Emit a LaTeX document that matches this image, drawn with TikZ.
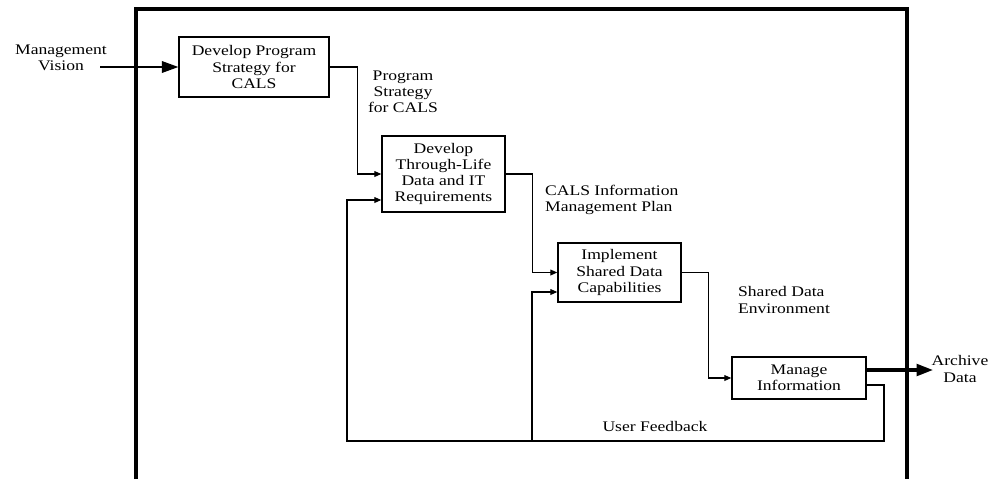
\documentclass[tikz,border=0pt]{standalone}
\usepackage{fontspec}
\setmainfont[FakeStretch=1.2]{Liberation Serif}
\usetikzlibrary{calc}
\usetikzlibrary{arrows.meta}
\begin{document}
\begin{tikzpicture}[x=0.3mm,y=-0.3mm,font=\fontsize{12.5}{13.8}\selectfont]
\tikzstyle{process}=[draw,line width=1.2pt,align=center,inner sep=0pt]
\tikzstyle{flow}=[line width=1pt,-{Triangle[length=6pt,width=5pt]}]
\tikzstyle{bigflow}=[-{Triangle[length=14pt,width=10pt]}]
\useasboundingbox (0,0) rectangle (999,479);
\draw[line width=3.4pt] (136,479) -- (136,9) -- (907,9) -- (907,479);
\node[process,minimum width=45mm,minimum height=18mm] (A) at (254,67) {Develop Program\\Strategy for\\CALS};
\node[process,minimum width=36.9mm,minimum height=22.8mm] (B) at (443.5,174) {Develop\\Through-Life\\Data and IT\\Requirements};
\node[process,minimum width=36.9mm,minimum height=17.7mm] (C) at (619.5,272.5) {Implement\\Shared Data\\Capabilities};
\node[process,minimum width=40.2mm,minimum height=12.6mm] (D) at (799,378) {Manage\\Information};
\node[align=center] (vision) at (61,58) {Management\\Vision};
\node[align=center] (archive) at (960,369) {Archive\\Data};
\coordinate (vin) at (100,67);
\coordinate (aout) at (933,370);
\coordinate (fbR) at (884,441);
\coordinate (fbM) at (532,441);
\coordinate (fbL) at (347,441);
\draw[bigflow,line width=1pt] (vin) -- (A.west);
\draw[bigflow,line width=2.6pt] ($(D.east)+(0,-8)$) -- (aout);
\draw[flow] (A.east) -- ++(28,0) |- (B.west);
\draw[flow] (B.east) -- ++(27,0) |- (C.west);
\draw[flow] (C.east) -- ++(27,0) |- (D.west);
\draw[flow] ($(D.east)+(0,7)$) -| (fbR) -- (fbL) |- ($(B.west)+(0,26)$);
\draw[flow] (fbM) |- ($(C.west)+(0,19.5)$);
\node[align=center] (lblA) at (403,92) {Program\\Strategy\\for CALS};
\node[align=left,anchor=west] (lblB) at (541,200) {CALS Information\\Management Plan};
\node[align=left,anchor=west] (lblC) at (734,300) {Shared Data\\Environment};
\node (lblD) at (655,426) {User Feedback};
\end{tikzpicture}
\end{document}
